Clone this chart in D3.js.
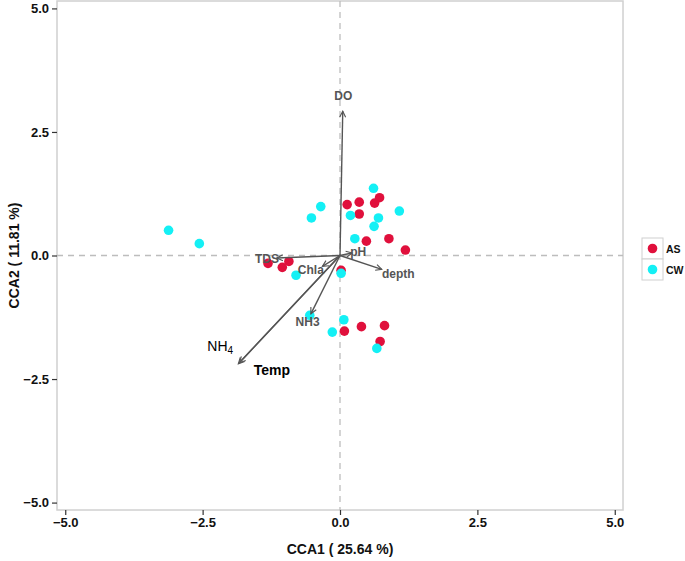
<!DOCTYPE html>
<html><head><meta charset="utf-8">
<script src="https://cdn.jsdelivr.net/npm/d3@7"></script>
<style>body{margin:0;background:#fff}svg{font-family:"Liberation Sans",Arial,sans-serif}</style>
</head><body><svg id="c" width="685" height="561"></svg>
<script>
const asPoints = [[0.13,1.03],[0.35,1.08],[0.72,1.17],[0.63,1.06],[0.35,0.84],[0.48,0.29],[0.89,0.34],[1.19,0.11],
  [-1.31,-0.16],[-1.05,-0.24],[-0.93,-0.12],[0.02,-0.30],[0.08,-1.53],[0.39,-1.44],[0.81,-1.42],[0.73,-1.74]];
const cwPoints = [[-3.12,0.51],[-2.56,0.24],[-0.35,0.99],[-0.52,0.76],[0.61,1.36],[0.19,0.81],[0.70,0.76],[1.08,0.90],
  [0.62,0.59],[0.27,0.34],[-0.80,-0.40],[0.02,-0.36],[-0.55,-1.21],[0.07,-1.30],[-0.14,-1.55],[0.67,-1.88]];
const envNames = ["DO","TDS","Chla","pH","depth","NH3","NH4","Temp"];
const envX = [0.05,-1.15,-0.32,0.22,0.76,-0.53,-1.85,-1.83];
const envY = [2.92,-0.05,-0.22,0.05,-0.28,-1.18,-2.19,-2.17];
const labX = [0.06,-1.33,-0.53,0.33,1.06,-0.59,-2.18,-1.24];
const labY = [3.22,-0.08,-0.30,0.07,-0.38,-1.35,-1.84,-2.32];
const ticks = [-5.0,-2.5,0.0,2.5,5.0];
const groups = ["AS","CW"];
const colors = ["#e0103c","#14f0f5"];

const svg = d3.select("#c");
const x = d3.scaleLinear().domain([-5.15,5.15]).range([57,623]);
const y = d3.scaleLinear().domain([-5.15,5.15]).range([510,1]);

// panel
svg.append("rect").attr("x",57).attr("y",1).attr("width",566).attr("height",509)
  .attr("fill","#fff").attr("stroke","#d0d0d0").attr("stroke-width",1.5);
// dashed reference lines
svg.append("line").attr("x1",x(0)).attr("x2",x(0)).attr("y1",1).attr("y2",510)
  .attr("stroke","#bdbdbd").attr("stroke-width",1.3).attr("stroke-dasharray","6,5");
svg.append("line").attr("x1",57).attr("x2",623).attr("y1",y(0)).attr("y2",y(0))
  .attr("stroke","#bdbdbd").attr("stroke-width",1.3).attr("stroke-dasharray","6,5");

// axes
const fmt = d3.format(".1f");
const ax = svg.append("g").attr("transform","translate(0,510)")
  .call(d3.axisBottom(x).tickValues(ticks).tickFormat(d=>fmt(d).replace("-","\u2212")).tickSize(5).tickPadding(3));
const ay = svg.append("g").attr("transform","translate(57,0)")
  .call(d3.axisLeft(y).tickValues(ticks).tickFormat(d=>fmt(d).replace("-","\u2212")).tickSize(5).tickPadding(3));
[ax,ay].forEach(g=>{
  g.select(".domain").remove();
  g.selectAll(".tick line").attr("stroke","#333").attr("stroke-width",1.2);
  g.selectAll(".tick text").attr("fill","#111").attr("font-size",13).attr("font-weight","bold")
   .attr("font-family","'Liberation Sans',Arial,sans-serif");
});
svg.append("text").attr("x",x(0)).attr("y",554).attr("text-anchor","middle")
  .attr("font-size",14).attr("font-weight","bold").attr("fill","#111").text("CCA1 ( 25.64 %)");
svg.append("text").attr("transform",`translate(19,${y(0)}) rotate(-90)`).attr("text-anchor","middle")
  .attr("font-size",14).attr("font-weight","bold").attr("fill","#111").text("CCA2 ( 11.81 %)");

// points
const pts = svg.append("g");
[asPoints,cwPoints].forEach((arr,i)=>{
  pts.selectAll(null).data(arr).enter().append("circle")
    .attr("cx",d=>x(d[0])).attr("cy",d=>y(d[1])).attr("r",4.8).attr("fill",colors[i]);
});

// arrows
const defs = svg.append("defs");
defs.append("marker").attr("id","ah").attr("viewBox","-10 -6 12 12").attr("refX",0).attr("refY",0)
  .attr("markerWidth",9).attr("markerHeight",9).attr("markerUnits","userSpaceOnUse").attr("orient","auto")
  .append("path").attr("d","M-8,-4 L0,0 L-8,4").attr("fill","none").attr("stroke","#555").attr("stroke-width",1.5);
const ag = svg.append("g");
envNames.forEach((n,i)=>{
  ag.append("line").attr("x1",x(0)).attr("y1",y(0)).attr("x2",x(envX[i])).attr("y2",y(envY[i]))
    .attr("stroke","#555").attr("stroke-width",1.4).attr("marker-end","url(#ah)");
});
envNames.forEach((n,i)=>{
  const t = ag.append("text").attr("x",x(labX[i])).attr("y",y(labY[i])).attr("text-anchor","middle")
    .attr("dominant-baseline","central");
  if(n==="NH4"){
    t.attr("fill","#000").attr("font-size",14);
    t.append("tspan").text("NH");
    t.append("tspan").attr("font-size",10).attr("dy",4).text("4");
  } else if(n==="Temp"){
    t.attr("fill","#000").attr("font-size",14).attr("font-weight","bold").text(n);
  } else {
    t.attr("fill","#555").attr("font-size",12).attr("font-weight","bold").text(n);
  }
});

// legend
const lg = svg.append("g");
groups.forEach((g,i)=>{
  const yy = 238 + i*21;
  lg.append("rect").attr("x",642).attr("y",yy).attr("width",21).attr("height",21)
    .attr("fill","#fff").attr("stroke","#d0d0d0").attr("stroke-width",1);
  lg.append("circle").attr("cx",652.5).attr("cy",yy+10.5).attr("r",4.8).attr("fill",colors[i]);
  lg.append("text").attr("x",666).attr("y",yy+11).attr("dominant-baseline","central")
    .attr("font-size",10.5).attr("font-weight","bold").attr("fill","#111").text(g);
});
</script></body></html>
